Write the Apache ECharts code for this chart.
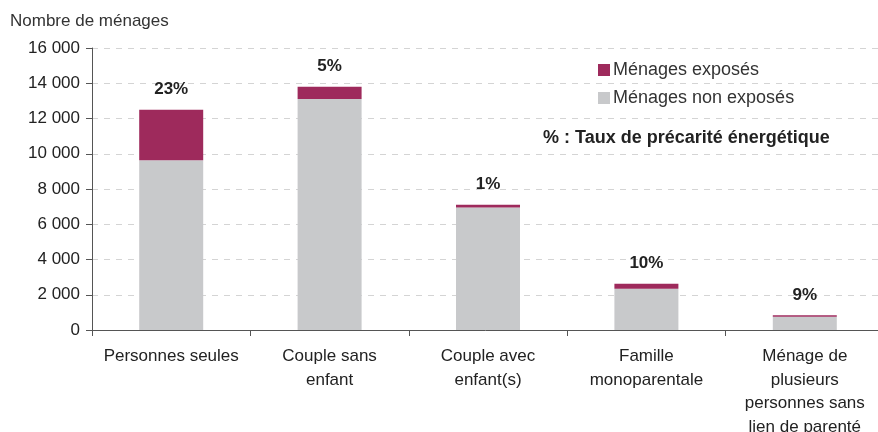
<!DOCTYPE html>
<html>
<head>
<meta charset="utf-8">
<script src="https://cdn.jsdelivr.net/npm/echarts@6/dist/echarts.min.js"></script>
<style>
  html, body { margin: 0; padding: 0; background: #fff; }
  #chart { width: 878px; height: 432px; }
</style>
</head>
<body>
<div id="chart"></div>
<script>
// catégories de ménages
const categories = [
  "Personnes seules",
  "Couple sans\nenfant",
  "Couple avec\nenfant(s)",
  "Famille\nmonoparentale",
  "Ménage de\nplusieurs\npersonnes sans\nlien de parenté"
];
const nonExposes = [9625, 13110, 6950, 2340, 755];
const exposes = [2875, 690, 150, 280, 75];
const tauxPrecarite = ["23%", "5%", "1%", "10%", "9%"];
const yTicks = { min: 0, max: 16000, interval: 2000 };

const font = "Liberation Sans, Arial, sans-serif";
const chart = echarts.init(document.getElementById("chart"));

chart.setOption({
  animation: false,
  textStyle: { fontFamily: font },
  grid: { left: 92, right: -6, top: 48, bottom: 102, outerBoundsMode: "none", containLabel: false },
  legend: {
    orient: "vertical",
    left: 593,
    top: 56,
    itemWidth: 12,
    itemHeight: 12,
    itemGap: 10,
    icon: "rect",
    data: ["Ménages exposés", "Ménages non exposés"],
    textStyle: { fontSize: 18, color: "#333", padding: [0, 0, 0, -2] }
  },
  graphic: [
    {
      type: "text",
      left: 10,
      top: 13,
      style: { text: "Nombre de ménages", font: "17px " + font, fill: "#333" }
    },
    {
      type: "text",
      left: 543,
      top: 129,
      style: { text: "% : Taux de précarité énergétique", font: "bold 18px " + font, fill: "#222" }
    }
  ],
  xAxis: {
    type: "category",
    data: categories,
    axisLine: { lineStyle: { color: "#555", width: 1 } },
    axisTick: { show: true, length: 6, lineStyle: { color: "#555" } },
    axisLabel: { fontSize: 17, color: "#222", margin: 15, lineHeight: 23.5, interval: 0 }
  },
  yAxis: {
    type: "value",
    min: yTicks.min,
    max: yTicks.max,
    interval: yTicks.interval,
    axisLine: { show: true, lineStyle: { color: "#555" } },
    axisTick: { show: true, length: 6, lineStyle: { color: "#555" } },
    axisLabel: {
      fontSize: 17,
      color: "#222",
      margin: 12,
      formatter: (v) => v === 0 ? "0" : String(v).replace(/\B(?=(\d{3})+(?!\d))/g, " ")
    },
    splitLine: { lineStyle: { color: "#d4d4d4", type: [6, 6] } }
  },
  series: [
    {
      name: "Ménages non exposés",
      type: "bar",
      stack: "total",
      barWidth: 64,
      itemStyle: { color: "#c8c9cb" },
      data: nonExposes
    },
    {
      name: "Ménages exposés",
      type: "bar",
      stack: "total",
      barWidth: 64,
      itemStyle: { color: "#9e2a5c" },
      label: {
        show: true,
        position: "top",
        distance: 12,
        fontSize: 17,
        fontWeight: "bold",
        color: "#222",
        formatter: (p) => tauxPrecarite[p.dataIndex]
      },
      data: exposes
    }
  ]
});
</script>
</body>
</html>
